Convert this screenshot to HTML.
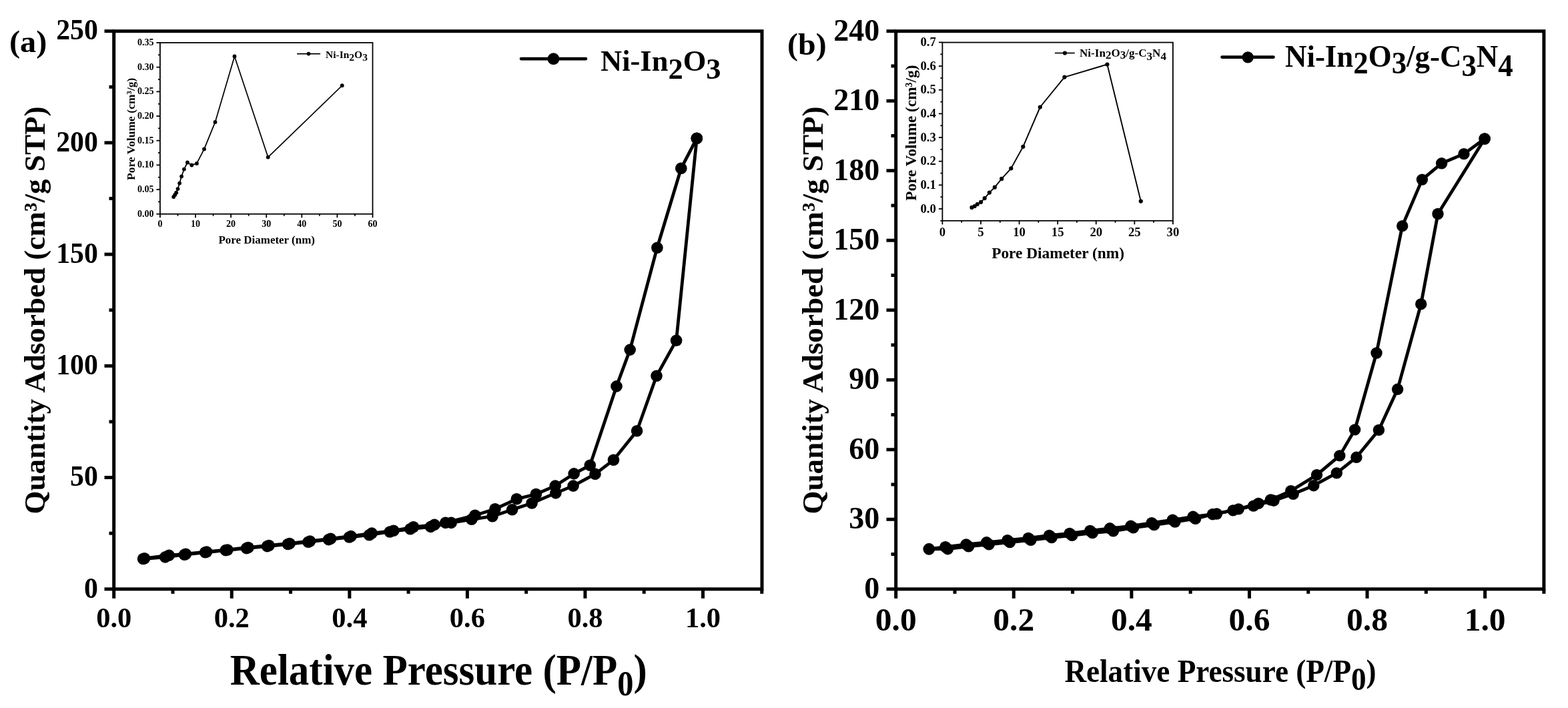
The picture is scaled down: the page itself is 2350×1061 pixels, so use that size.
<!DOCTYPE html>
<html><head><meta charset="utf-8"><title>BET isotherms</title>
<style>html,body{margin:0;padding:0;background:#fff;} svg{display:block;}</style>
</head><body>
<svg width="2350" height="1061" viewBox="0 0 2350 1061" font-family="'Liberation Serif','Times New Roman',serif" font-weight="bold">
<rect width="2350" height="1061" fill="#fff"/>
<line x1="170.70" y1="882.80" x2="156.50" y2="882.80" stroke="#000" stroke-width="5.0"/>
<text transform="translate(146.80,895.60) scale(0.9650,1)" font-size="43.3" text-anchor="end" >0</text>
<line x1="170.70" y1="715.57" x2="156.50" y2="715.57" stroke="#000" stroke-width="5.0"/>
<text transform="translate(146.80,728.37) scale(0.9650,1)" font-size="43.3" text-anchor="end" >50</text>
<line x1="170.70" y1="548.35" x2="156.50" y2="548.35" stroke="#000" stroke-width="5.0"/>
<text transform="translate(146.80,561.15) scale(0.9650,1)" font-size="43.3" text-anchor="end" >100</text>
<line x1="170.70" y1="381.12" x2="156.50" y2="381.12" stroke="#000" stroke-width="5.0"/>
<text transform="translate(146.80,393.92) scale(0.9650,1)" font-size="43.3" text-anchor="end" >150</text>
<line x1="170.70" y1="213.90" x2="156.50" y2="213.90" stroke="#000" stroke-width="5.0"/>
<text transform="translate(146.80,226.70) scale(0.9650,1)" font-size="43.3" text-anchor="end" >200</text>
<line x1="170.70" y1="46.67" x2="156.50" y2="46.67" stroke="#000" stroke-width="5.0"/>
<text transform="translate(146.80,59.47) scale(0.9650,1)" font-size="43.3" text-anchor="end" >250</text>
<line x1="170.70" y1="799.19" x2="163.50" y2="799.19" stroke="#000" stroke-width="5.0"/>
<line x1="170.70" y1="631.96" x2="163.50" y2="631.96" stroke="#000" stroke-width="5.0"/>
<line x1="170.70" y1="464.74" x2="163.50" y2="464.74" stroke="#000" stroke-width="5.0"/>
<line x1="170.70" y1="297.51" x2="163.50" y2="297.51" stroke="#000" stroke-width="5.0"/>
<line x1="170.70" y1="130.29" x2="163.50" y2="130.29" stroke="#000" stroke-width="5.0"/>
<line x1="170.70" y1="882.80" x2="170.70" y2="896.80" stroke="#000" stroke-width="5.0"/>
<text transform="translate(170.70,940.30)" font-size="42.5" text-anchor="middle" >0.0</text>
<line x1="347.26" y1="882.80" x2="347.26" y2="896.80" stroke="#000" stroke-width="5.0"/>
<text transform="translate(347.26,940.30)" font-size="42.5" text-anchor="middle" >0.2</text>
<line x1="523.82" y1="882.80" x2="523.82" y2="896.80" stroke="#000" stroke-width="5.0"/>
<text transform="translate(523.82,940.30)" font-size="42.5" text-anchor="middle" >0.4</text>
<line x1="700.38" y1="882.80" x2="700.38" y2="896.80" stroke="#000" stroke-width="5.0"/>
<text transform="translate(700.38,940.30)" font-size="42.5" text-anchor="middle" >0.6</text>
<line x1="876.94" y1="882.80" x2="876.94" y2="896.80" stroke="#000" stroke-width="5.0"/>
<text transform="translate(876.94,940.30)" font-size="42.5" text-anchor="middle" >0.8</text>
<line x1="1053.50" y1="882.80" x2="1053.50" y2="896.80" stroke="#000" stroke-width="5.0"/>
<text transform="translate(1053.50,940.30)" font-size="42.5" text-anchor="middle" >1.0</text>
<line x1="258.98" y1="882.80" x2="258.98" y2="889.80" stroke="#000" stroke-width="5.0"/>
<line x1="435.54" y1="882.80" x2="435.54" y2="889.80" stroke="#000" stroke-width="5.0"/>
<line x1="612.10" y1="882.80" x2="612.10" y2="889.80" stroke="#000" stroke-width="5.0"/>
<line x1="788.66" y1="882.80" x2="788.66" y2="889.80" stroke="#000" stroke-width="5.0"/>
<line x1="965.22" y1="882.80" x2="965.22" y2="889.80" stroke="#000" stroke-width="5.0"/>
<line x1="1141.78" y1="882.80" x2="1141.78" y2="889.80" stroke="#000" stroke-width="5.0"/>
<rect x="170.70" y="46.70" width="971.30" height="836.10" fill="none" stroke="#000" stroke-width="5.0" stroke-linejoin="miter" stroke-linecap="square"/>
<line x1="1342.70" y1="882.80" x2="1328.50" y2="882.80" stroke="#000" stroke-width="5.0"/>
<text transform="translate(1318.30,896.70)" font-size="46" text-anchor="end" >0</text>
<line x1="1342.70" y1="778.29" x2="1328.50" y2="778.29" stroke="#000" stroke-width="5.0"/>
<text transform="translate(1318.30,792.19)" font-size="46" text-anchor="end" >30</text>
<line x1="1342.70" y1="673.77" x2="1328.50" y2="673.77" stroke="#000" stroke-width="5.0"/>
<text transform="translate(1318.30,687.67)" font-size="46" text-anchor="end" >60</text>
<line x1="1342.70" y1="569.26" x2="1328.50" y2="569.26" stroke="#000" stroke-width="5.0"/>
<text transform="translate(1318.30,583.16)" font-size="46" text-anchor="end" >90</text>
<line x1="1342.70" y1="464.74" x2="1328.50" y2="464.74" stroke="#000" stroke-width="5.0"/>
<text transform="translate(1318.30,478.64)" font-size="46" text-anchor="end" >120</text>
<line x1="1342.70" y1="360.23" x2="1328.50" y2="360.23" stroke="#000" stroke-width="5.0"/>
<text transform="translate(1318.30,374.13)" font-size="46" text-anchor="end" >150</text>
<line x1="1342.70" y1="255.72" x2="1328.50" y2="255.72" stroke="#000" stroke-width="5.0"/>
<text transform="translate(1318.30,269.62)" font-size="46" text-anchor="end" >180</text>
<line x1="1342.70" y1="151.20" x2="1328.50" y2="151.20" stroke="#000" stroke-width="5.0"/>
<text transform="translate(1318.30,165.10)" font-size="46" text-anchor="end" >210</text>
<line x1="1342.70" y1="46.69" x2="1328.50" y2="46.69" stroke="#000" stroke-width="5.0"/>
<text transform="translate(1318.30,60.59)" font-size="46" text-anchor="end" >240</text>
<line x1="1342.70" y1="830.54" x2="1335.50" y2="830.54" stroke="#000" stroke-width="5.0"/>
<line x1="1342.70" y1="726.03" x2="1335.50" y2="726.03" stroke="#000" stroke-width="5.0"/>
<line x1="1342.70" y1="621.51" x2="1335.50" y2="621.51" stroke="#000" stroke-width="5.0"/>
<line x1="1342.70" y1="517.00" x2="1335.50" y2="517.00" stroke="#000" stroke-width="5.0"/>
<line x1="1342.70" y1="412.49" x2="1335.50" y2="412.49" stroke="#000" stroke-width="5.0"/>
<line x1="1342.70" y1="307.97" x2="1335.50" y2="307.97" stroke="#000" stroke-width="5.0"/>
<line x1="1342.70" y1="203.46" x2="1335.50" y2="203.46" stroke="#000" stroke-width="5.0"/>
<line x1="1342.70" y1="98.94" x2="1335.50" y2="98.94" stroke="#000" stroke-width="5.0"/>
<line x1="1342.70" y1="882.80" x2="1342.70" y2="896.80" stroke="#000" stroke-width="5.0"/>
<text transform="translate(1342.70,944.80)" font-size="49.5" text-anchor="middle" >0.0</text>
<line x1="1519.28" y1="882.80" x2="1519.28" y2="896.80" stroke="#000" stroke-width="5.0"/>
<text transform="translate(1519.28,944.80)" font-size="49.5" text-anchor="middle" >0.2</text>
<line x1="1695.86" y1="882.80" x2="1695.86" y2="896.80" stroke="#000" stroke-width="5.0"/>
<text transform="translate(1695.86,944.80)" font-size="49.5" text-anchor="middle" >0.4</text>
<line x1="1872.44" y1="882.80" x2="1872.44" y2="896.80" stroke="#000" stroke-width="5.0"/>
<text transform="translate(1872.44,944.80)" font-size="49.5" text-anchor="middle" >0.6</text>
<line x1="2049.02" y1="882.80" x2="2049.02" y2="896.80" stroke="#000" stroke-width="5.0"/>
<text transform="translate(2049.02,944.80)" font-size="49.5" text-anchor="middle" >0.8</text>
<line x1="2225.60" y1="882.80" x2="2225.60" y2="896.80" stroke="#000" stroke-width="5.0"/>
<text transform="translate(2225.60,944.80)" font-size="49.5" text-anchor="middle" >1.0</text>
<line x1="1430.99" y1="882.80" x2="1430.99" y2="889.80" stroke="#000" stroke-width="5.0"/>
<line x1="1607.57" y1="882.80" x2="1607.57" y2="889.80" stroke="#000" stroke-width="5.0"/>
<line x1="1784.15" y1="882.80" x2="1784.15" y2="889.80" stroke="#000" stroke-width="5.0"/>
<line x1="1960.73" y1="882.80" x2="1960.73" y2="889.80" stroke="#000" stroke-width="5.0"/>
<line x1="2137.31" y1="882.80" x2="2137.31" y2="889.80" stroke="#000" stroke-width="5.0"/>
<line x1="2313.89" y1="882.80" x2="2313.89" y2="889.80" stroke="#000" stroke-width="5.0"/>
<rect x="1342.70" y="46.70" width="971.20" height="836.10" fill="none" stroke="#000" stroke-width="5.0" stroke-linejoin="miter" stroke-linecap="square"/>
<text transform="translate(13.92,77.80) scale(1.0300,1)" font-size="47" text-anchor="start" >(a)</text>
<text transform="translate(1180.12,82.10) scale(1.0200,1)" font-size="47" text-anchor="start" >(b)</text>
<text transform="translate(657.3,1025.8) scale(0.9243,1)" font-size="66" text-anchor="middle">Relative Pressure (P/P<tspan font-size="52.5" dy="16">0</tspan><tspan dy="-16">)</tspan></text>
<text transform="translate(1829,1021.7) scale(0.931,1)" font-size="48.5" text-anchor="middle">Relative Pressure (P/P<tspan font-size="48.5" dy="12.2">0</tspan><tspan dy="-12.2">)</tspan></text>
<text transform="translate(66.6,465) rotate(-90)" font-size="45.1" text-anchor="middle">Quantity Adsorbed (cm³/g STP)</text>
<text transform="translate(1232.5,465) rotate(-90)" font-size="45.1" text-anchor="middle">Quantity Adsorbed (cm³/g STP)</text>
<line x1="781" y1="88.1" x2="878" y2="88.1" stroke="#000" stroke-width="4.6" stroke-linecap="round"/>
<circle cx="829.5" cy="88.2" r="8.9"/>
<text x="900" y="105.6" font-size="44.5">Ni-In<tspan dy="12.7">2</tspan><tspan dy="-12.7">O</tspan><tspan dy="12.7">3</tspan></text>
<line x1="1831.5" y1="85.6" x2="1908.5" y2="85.6" stroke="#000" stroke-width="4.6" stroke-linecap="round"/>
<circle cx="1870.2" cy="85.9" r="8.7"/>
<text transform="translate(1926,99.9) scale(0.987,1)" font-size="45.5">Ni-In<tspan dy="10">2</tspan><tspan dy="-10">O</tspan><tspan dy="10">3</tspan><tspan dy="-10">/g-C</tspan><tspan dy="14">3</tspan><tspan dy="-14">N</tspan><tspan dy="14">4</tspan></text>
<path d="M214.6,837.5 L247.6,834.9 L276.5,831.2 L307.6,827.8 L338.2,824.6 L369.5,821.6 L400.5,818.6 L431.5,815.5 L462.0,812.2 L492.5,808.6 L523.4,805.0 L553.4,801.7 L584.3,797.0 L614.9,792.8 L645.5,789.4 L676.2,783.4 L706.8,778.3 L738.0,773.7 L767.6,763.8 L797.1,754.0 L832.9,738.9 L859.1,728.1 L892.0,710.4 L919.5,689.3 L954.6,645.8 L984.0,563.3 L1013.6,510.2 L1044.3,207.2" fill="none" stroke="#000" stroke-width="4.8" stroke-linejoin="round" stroke-linecap="round"/>
<circle cx="214.6" cy="837.5" r="8.8"/>
<circle cx="247.6" cy="834.9" r="8.8"/>
<circle cx="276.5" cy="831.2" r="8.8"/>
<circle cx="307.6" cy="827.8" r="8.8"/>
<circle cx="338.2" cy="824.6" r="8.8"/>
<circle cx="369.5" cy="821.6" r="8.8"/>
<circle cx="400.5" cy="818.6" r="8.8"/>
<circle cx="431.5" cy="815.5" r="8.8"/>
<circle cx="462.0" cy="812.2" r="8.8"/>
<circle cx="492.5" cy="808.6" r="8.8"/>
<circle cx="523.4" cy="805.0" r="8.8"/>
<circle cx="553.4" cy="801.7" r="8.8"/>
<circle cx="584.3" cy="797.0" r="8.8"/>
<circle cx="614.9" cy="792.8" r="8.8"/>
<circle cx="645.5" cy="789.4" r="8.8"/>
<circle cx="676.2" cy="783.4" r="8.8"/>
<circle cx="706.8" cy="778.3" r="8.8"/>
<circle cx="738.0" cy="773.7" r="8.8"/>
<circle cx="767.6" cy="763.8" r="8.8"/>
<circle cx="797.1" cy="754.0" r="8.8"/>
<circle cx="832.9" cy="738.9" r="8.8"/>
<circle cx="859.1" cy="728.1" r="8.8"/>
<circle cx="892.0" cy="710.4" r="8.8"/>
<circle cx="919.5" cy="689.3" r="8.8"/>
<circle cx="954.6" cy="645.8" r="8.8"/>
<circle cx="984.0" cy="563.3" r="8.8"/>
<circle cx="1013.6" cy="510.2" r="8.8"/>
<circle cx="1044.3" cy="207.2" r="8.8"/>
<path d="M1044.3,207.2 L1020.8,252.3 L984.9,371.2 L944.2,524.1 L924.0,578.9 L884.3,697.3 L860.2,709.9 L832.2,728.1 L803.4,740.5 L774.3,747.8 L742.0,762.8 L711.9,772.3 L667.7,783.4 L651.1,786.4 L619.6,789.8 L589.8,795.3 L557.2,799.1 L526.0,803.6 L495.5,807.3 L464.5,811.0 L434.0,814.5 L403.0,817.5 L372.0,820.5 L340.9,824.0 L309.6,827.0 L278.3,830.2 L253.1,832.2 L216.5,836.8" fill="none" stroke="#000" stroke-width="4.8" stroke-linejoin="round" stroke-linecap="round"/>
<circle cx="1044.3" cy="207.2" r="8.8"/>
<circle cx="1020.8" cy="252.3" r="8.8"/>
<circle cx="984.9" cy="371.2" r="8.8"/>
<circle cx="944.2" cy="524.1" r="8.8"/>
<circle cx="924.0" cy="578.9" r="8.8"/>
<circle cx="884.3" cy="697.3" r="8.8"/>
<circle cx="860.2" cy="709.9" r="8.8"/>
<circle cx="832.2" cy="728.1" r="8.8"/>
<circle cx="803.4" cy="740.5" r="8.8"/>
<circle cx="774.3" cy="747.8" r="8.8"/>
<circle cx="742.0" cy="762.8" r="8.8"/>
<circle cx="711.9" cy="772.3" r="8.8"/>
<circle cx="667.7" cy="783.4" r="8.8"/>
<circle cx="651.1" cy="786.4" r="8.8"/>
<circle cx="619.6" cy="789.8" r="8.8"/>
<circle cx="589.8" cy="795.3" r="8.8"/>
<circle cx="557.2" cy="799.1" r="8.8"/>
<circle cx="526.0" cy="803.6" r="8.8"/>
<circle cx="495.5" cy="807.3" r="8.8"/>
<circle cx="464.5" cy="811.0" r="8.8"/>
<circle cx="434.0" cy="814.5" r="8.8"/>
<circle cx="403.0" cy="817.5" r="8.8"/>
<circle cx="372.0" cy="820.5" r="8.8"/>
<circle cx="340.9" cy="824.0" r="8.8"/>
<circle cx="309.6" cy="827.0" r="8.8"/>
<circle cx="278.3" cy="830.2" r="8.8"/>
<circle cx="253.1" cy="832.2" r="8.8"/>
<circle cx="216.5" cy="836.8" r="8.8"/>
<path d="M1392.3,822.8 L1420.4,822.7 L1451.6,818.9 L1482.2,815.8 L1513.5,812.6 L1544.8,809.4 L1576.1,805.5 L1606.7,802.4 L1637.3,798.5 L1668.5,795.8 L1698.5,790.9 L1729.7,786.6 L1761.0,782.1 L1791.6,777.3 L1817.4,770.7 L1848.0,764.9 L1878.6,758.1 L1909.0,750.2 L1938.2,740.3 L1968.8,727.7 L2003.3,708.9 L2032.9,685.3 L2066.4,644.4 L2094.6,583.3 L2129.7,455.7 L2155.0,320.5 L2225.1,208.0" fill="none" stroke="#000" stroke-width="4.8" stroke-linejoin="round" stroke-linecap="round"/>
<circle cx="1392.3" cy="822.8" r="8.7"/>
<circle cx="1420.4" cy="822.7" r="8.7"/>
<circle cx="1451.6" cy="818.9" r="8.7"/>
<circle cx="1482.2" cy="815.8" r="8.7"/>
<circle cx="1513.5" cy="812.6" r="8.7"/>
<circle cx="1544.8" cy="809.4" r="8.7"/>
<circle cx="1576.1" cy="805.5" r="8.7"/>
<circle cx="1606.7" cy="802.4" r="8.7"/>
<circle cx="1637.3" cy="798.5" r="8.7"/>
<circle cx="1668.5" cy="795.8" r="8.7"/>
<circle cx="1698.5" cy="790.9" r="8.7"/>
<circle cx="1729.7" cy="786.6" r="8.7"/>
<circle cx="1761.0" cy="782.1" r="8.7"/>
<circle cx="1791.6" cy="777.3" r="8.7"/>
<circle cx="1817.4" cy="770.7" r="8.7"/>
<circle cx="1848.0" cy="764.9" r="8.7"/>
<circle cx="1878.6" cy="758.1" r="8.7"/>
<circle cx="1909.0" cy="750.2" r="8.7"/>
<circle cx="1938.2" cy="740.3" r="8.7"/>
<circle cx="1968.8" cy="727.7" r="8.7"/>
<circle cx="2003.3" cy="708.9" r="8.7"/>
<circle cx="2032.9" cy="685.3" r="8.7"/>
<circle cx="2066.4" cy="644.4" r="8.7"/>
<circle cx="2094.6" cy="583.3" r="8.7"/>
<circle cx="2129.7" cy="455.7" r="8.7"/>
<circle cx="2155.0" cy="320.5" r="8.7"/>
<circle cx="2225.1" cy="208.0" r="8.7"/>
<path d="M2225.1,208.0 L2194.0,230.6 L2160.6,244.8 L2131.4,269.1 L2101.7,338.6 L2063.0,529.0 L2030.6,643.9 L2007.8,682.9 L1973.5,711.7 L1934.7,735.6 L1904.4,749.0 L1886.1,754.4 L1856.2,762.9 L1823.5,770.0 L1788.0,774.3 L1757.4,779.1 L1726.1,783.6 L1694.7,788.3 L1663.4,791.8 L1633.7,795.5 L1603.1,799.4 L1572.5,802.5 L1541.2,806.4 L1509.9,809.6 L1478.6,812.8 L1448.0,815.9 L1416.8,819.7 L1392.3,822.8" fill="none" stroke="#000" stroke-width="4.8" stroke-linejoin="round" stroke-linecap="round"/>
<circle cx="2225.1" cy="208.0" r="8.7"/>
<circle cx="2194.0" cy="230.6" r="8.7"/>
<circle cx="2160.6" cy="244.8" r="8.7"/>
<circle cx="2131.4" cy="269.1" r="8.7"/>
<circle cx="2101.7" cy="338.6" r="8.7"/>
<circle cx="2063.0" cy="529.0" r="8.7"/>
<circle cx="2030.6" cy="643.9" r="8.7"/>
<circle cx="2007.8" cy="682.9" r="8.7"/>
<circle cx="1973.5" cy="711.7" r="8.7"/>
<circle cx="1934.7" cy="735.6" r="8.7"/>
<circle cx="1904.4" cy="749.0" r="8.7"/>
<circle cx="1886.1" cy="754.4" r="8.7"/>
<circle cx="1856.2" cy="762.9" r="8.7"/>
<circle cx="1823.5" cy="770.0" r="8.7"/>
<circle cx="1788.0" cy="774.3" r="8.7"/>
<circle cx="1757.4" cy="779.1" r="8.7"/>
<circle cx="1726.1" cy="783.6" r="8.7"/>
<circle cx="1694.7" cy="788.3" r="8.7"/>
<circle cx="1663.4" cy="791.8" r="8.7"/>
<circle cx="1633.7" cy="795.5" r="8.7"/>
<circle cx="1603.1" cy="799.4" r="8.7"/>
<circle cx="1572.5" cy="802.5" r="8.7"/>
<circle cx="1541.2" cy="806.4" r="8.7"/>
<circle cx="1509.9" cy="809.6" r="8.7"/>
<circle cx="1478.6" cy="812.8" r="8.7"/>
<circle cx="1448.0" cy="815.9" r="8.7"/>
<circle cx="1416.8" cy="819.7" r="8.7"/>
<circle cx="1392.3" cy="822.8" r="8.7"/>
<line x1="239.90" y1="320.70" x2="234.40" y2="320.70" stroke="#000" stroke-width="1.8"/>
<text transform="translate(230.50,324.60)" font-size="14" text-anchor="end" >0.00</text>
<line x1="239.90" y1="284.03" x2="234.40" y2="284.03" stroke="#000" stroke-width="1.8"/>
<text transform="translate(230.50,287.93)" font-size="14" text-anchor="end" >0.05</text>
<line x1="239.90" y1="247.36" x2="234.40" y2="247.36" stroke="#000" stroke-width="1.8"/>
<text transform="translate(230.50,251.26)" font-size="14" text-anchor="end" >0.10</text>
<line x1="239.90" y1="210.69" x2="234.40" y2="210.69" stroke="#000" stroke-width="1.8"/>
<text transform="translate(230.50,214.59)" font-size="14" text-anchor="end" >0.15</text>
<line x1="239.90" y1="174.02" x2="234.40" y2="174.02" stroke="#000" stroke-width="1.8"/>
<text transform="translate(230.50,177.92)" font-size="14" text-anchor="end" >0.20</text>
<line x1="239.90" y1="137.35" x2="234.40" y2="137.35" stroke="#000" stroke-width="1.8"/>
<text transform="translate(230.50,141.25)" font-size="14" text-anchor="end" >0.25</text>
<line x1="239.90" y1="100.68" x2="234.40" y2="100.68" stroke="#000" stroke-width="1.8"/>
<text transform="translate(230.50,104.58)" font-size="14" text-anchor="end" >0.30</text>
<line x1="239.90" y1="64.01" x2="234.40" y2="64.01" stroke="#000" stroke-width="1.8"/>
<text transform="translate(230.50,67.91)" font-size="14" text-anchor="end" >0.35</text>
<line x1="239.90" y1="302.37" x2="236.90" y2="302.37" stroke="#000" stroke-width="1.8"/>
<line x1="239.90" y1="265.69" x2="236.90" y2="265.69" stroke="#000" stroke-width="1.8"/>
<line x1="239.90" y1="229.02" x2="236.90" y2="229.02" stroke="#000" stroke-width="1.8"/>
<line x1="239.90" y1="192.35" x2="236.90" y2="192.35" stroke="#000" stroke-width="1.8"/>
<line x1="239.90" y1="155.69" x2="236.90" y2="155.69" stroke="#000" stroke-width="1.8"/>
<line x1="239.90" y1="119.01" x2="236.90" y2="119.01" stroke="#000" stroke-width="1.8"/>
<line x1="239.90" y1="82.34" x2="236.90" y2="82.34" stroke="#000" stroke-width="1.8"/>
<line x1="239.90" y1="320.70" x2="239.90" y2="326.20" stroke="#000" stroke-width="1.8"/>
<text transform="translate(239.90,339.60)" font-size="14" text-anchor="middle" >0</text>
<line x1="293.00" y1="320.70" x2="293.00" y2="326.20" stroke="#000" stroke-width="1.8"/>
<text transform="translate(293.00,339.60)" font-size="14" text-anchor="middle" >10</text>
<line x1="346.10" y1="320.70" x2="346.10" y2="326.20" stroke="#000" stroke-width="1.8"/>
<text transform="translate(346.10,339.60)" font-size="14" text-anchor="middle" >20</text>
<line x1="399.20" y1="320.70" x2="399.20" y2="326.20" stroke="#000" stroke-width="1.8"/>
<text transform="translate(399.20,339.60)" font-size="14" text-anchor="middle" >30</text>
<line x1="452.30" y1="320.70" x2="452.30" y2="326.20" stroke="#000" stroke-width="1.8"/>
<text transform="translate(452.30,339.60)" font-size="14" text-anchor="middle" >40</text>
<line x1="505.40" y1="320.70" x2="505.40" y2="326.20" stroke="#000" stroke-width="1.8"/>
<text transform="translate(505.40,339.60)" font-size="14" text-anchor="middle" >50</text>
<line x1="558.50" y1="320.70" x2="558.50" y2="326.20" stroke="#000" stroke-width="1.8"/>
<text transform="translate(558.50,339.60)" font-size="14" text-anchor="middle" >60</text>
<line x1="266.45" y1="320.70" x2="266.45" y2="323.70" stroke="#000" stroke-width="1.8"/>
<line x1="319.55" y1="320.70" x2="319.55" y2="323.70" stroke="#000" stroke-width="1.8"/>
<line x1="372.65" y1="320.70" x2="372.65" y2="323.70" stroke="#000" stroke-width="1.8"/>
<line x1="425.75" y1="320.70" x2="425.75" y2="323.70" stroke="#000" stroke-width="1.8"/>
<line x1="478.85" y1="320.70" x2="478.85" y2="323.70" stroke="#000" stroke-width="1.8"/>
<line x1="531.95" y1="320.70" x2="531.95" y2="323.70" stroke="#000" stroke-width="1.8"/>
<rect x="239.90" y="64.00" width="318.60" height="256.70" fill="none" stroke="#000" stroke-width="1.8"/>
<text transform="translate(399.7,365) scale(1.03,1)" font-size="16.5" text-anchor="middle">Pore Diameter (nm)</text>
<text transform="translate(201.5,193.3) rotate(-90)" font-size="17.6" text-anchor="middle">Pore Volume (cm³/g)</text>
<path d="M260.2,295.0 L262.2,292.0 L264.2,288.7 L266.5,283.1 L269.1,274.6 L272.1,264.3 L275.9,253.6 L280.9,243.5 L287.3,247.5 L294.9,244.9 L306.0,223.4 L322.5,182.9 L351.5,84.4 L401.7,235.6 L512.7,128.2" fill="none" stroke="#000" stroke-width="1.7" stroke-linejoin="round" stroke-linecap="round"/>
<circle cx="260.2" cy="295.0" r="2.9"/>
<circle cx="262.2" cy="292.0" r="2.9"/>
<circle cx="264.2" cy="288.7" r="2.9"/>
<circle cx="266.5" cy="283.1" r="2.9"/>
<circle cx="269.1" cy="274.6" r="2.9"/>
<circle cx="272.1" cy="264.3" r="2.9"/>
<circle cx="275.9" cy="253.6" r="2.9"/>
<circle cx="280.9" cy="243.5" r="2.9"/>
<circle cx="287.3" cy="247.5" r="2.9"/>
<circle cx="294.9" cy="244.9" r="2.9"/>
<circle cx="306.0" cy="223.4" r="2.9"/>
<circle cx="322.5" cy="182.9" r="2.9"/>
<circle cx="351.5" cy="84.4" r="2.9"/>
<circle cx="401.7" cy="235.6" r="2.9"/>
<circle cx="512.7" cy="128.2" r="2.9"/>
<line x1="445.1" y1="80.6" x2="480.1" y2="80.6" stroke="#000" stroke-width="1.7"/>
<circle cx="462.5" cy="80.6" r="2.8"/>
<text transform="translate(488,86.9) scale(1.0,1)" font-size="15.5">Ni-In<tspan dy="4.5">2</tspan><tspan dy="-4.5">O</tspan><tspan dy="4.5">3</tspan></text>
<line x1="1412.40" y1="313.00" x2="1406.90" y2="313.00" stroke="#000" stroke-width="1.8"/>
<text transform="translate(1402.80,318.60)" font-size="18.7" text-anchor="end" >0.0</text>
<line x1="1412.40" y1="277.35" x2="1406.90" y2="277.35" stroke="#000" stroke-width="1.8"/>
<text transform="translate(1402.80,282.95)" font-size="18.7" text-anchor="end" >0.1</text>
<line x1="1412.40" y1="241.70" x2="1406.90" y2="241.70" stroke="#000" stroke-width="1.8"/>
<text transform="translate(1402.80,247.30)" font-size="18.7" text-anchor="end" >0.2</text>
<line x1="1412.40" y1="206.05" x2="1406.90" y2="206.05" stroke="#000" stroke-width="1.8"/>
<text transform="translate(1402.80,211.65)" font-size="18.7" text-anchor="end" >0.3</text>
<line x1="1412.40" y1="170.40" x2="1406.90" y2="170.40" stroke="#000" stroke-width="1.8"/>
<text transform="translate(1402.80,176.00)" font-size="18.7" text-anchor="end" >0.4</text>
<line x1="1412.40" y1="134.75" x2="1406.90" y2="134.75" stroke="#000" stroke-width="1.8"/>
<text transform="translate(1402.80,140.35)" font-size="18.7" text-anchor="end" >0.5</text>
<line x1="1412.40" y1="99.10" x2="1406.90" y2="99.10" stroke="#000" stroke-width="1.8"/>
<text transform="translate(1402.80,104.70)" font-size="18.7" text-anchor="end" >0.6</text>
<line x1="1412.40" y1="63.45" x2="1406.90" y2="63.45" stroke="#000" stroke-width="1.8"/>
<text transform="translate(1402.80,69.05)" font-size="18.7" text-anchor="end" >0.7</text>
<line x1="1412.40" y1="330.82" x2="1409.40" y2="330.82" stroke="#000" stroke-width="1.8"/>
<line x1="1412.40" y1="295.18" x2="1409.40" y2="295.18" stroke="#000" stroke-width="1.8"/>
<line x1="1412.40" y1="259.52" x2="1409.40" y2="259.52" stroke="#000" stroke-width="1.8"/>
<line x1="1412.40" y1="223.88" x2="1409.40" y2="223.88" stroke="#000" stroke-width="1.8"/>
<line x1="1412.40" y1="188.23" x2="1409.40" y2="188.23" stroke="#000" stroke-width="1.8"/>
<line x1="1412.40" y1="152.57" x2="1409.40" y2="152.57" stroke="#000" stroke-width="1.8"/>
<line x1="1412.40" y1="116.92" x2="1409.40" y2="116.92" stroke="#000" stroke-width="1.8"/>
<line x1="1412.40" y1="81.28" x2="1409.40" y2="81.28" stroke="#000" stroke-width="1.8"/>
<line x1="1412.40" y1="330.80" x2="1412.40" y2="336.30" stroke="#000" stroke-width="1.8"/>
<text transform="translate(1412.40,353.50)" font-size="18.7" text-anchor="middle" >0</text>
<line x1="1469.99" y1="330.80" x2="1469.99" y2="336.30" stroke="#000" stroke-width="1.8"/>
<text transform="translate(1469.99,353.50)" font-size="18.7" text-anchor="middle" >5</text>
<line x1="1527.57" y1="330.80" x2="1527.57" y2="336.30" stroke="#000" stroke-width="1.8"/>
<text transform="translate(1527.57,353.50)" font-size="18.7" text-anchor="middle" >10</text>
<line x1="1585.16" y1="330.80" x2="1585.16" y2="336.30" stroke="#000" stroke-width="1.8"/>
<text transform="translate(1585.16,353.50)" font-size="18.7" text-anchor="middle" >15</text>
<line x1="1642.74" y1="330.80" x2="1642.74" y2="336.30" stroke="#000" stroke-width="1.8"/>
<text transform="translate(1642.74,353.50)" font-size="18.7" text-anchor="middle" >20</text>
<line x1="1700.33" y1="330.80" x2="1700.33" y2="336.30" stroke="#000" stroke-width="1.8"/>
<text transform="translate(1700.33,353.50)" font-size="18.7" text-anchor="middle" >25</text>
<line x1="1757.91" y1="330.80" x2="1757.91" y2="336.30" stroke="#000" stroke-width="1.8"/>
<text transform="translate(1757.91,353.50)" font-size="18.7" text-anchor="middle" >30</text>
<line x1="1441.19" y1="330.80" x2="1441.19" y2="333.80" stroke="#000" stroke-width="1.8"/>
<line x1="1498.78" y1="330.80" x2="1498.78" y2="333.80" stroke="#000" stroke-width="1.8"/>
<line x1="1556.36" y1="330.80" x2="1556.36" y2="333.80" stroke="#000" stroke-width="1.8"/>
<line x1="1613.95" y1="330.80" x2="1613.95" y2="333.80" stroke="#000" stroke-width="1.8"/>
<line x1="1671.53" y1="330.80" x2="1671.53" y2="333.80" stroke="#000" stroke-width="1.8"/>
<line x1="1729.12" y1="330.80" x2="1729.12" y2="333.80" stroke="#000" stroke-width="1.8"/>
<rect x="1412.40" y="63.60" width="345.50" height="267.20" fill="none" stroke="#000" stroke-width="1.8"/>
<text transform="translate(1585.6,386.8) scale(1.025,1)" font-size="22.8" text-anchor="middle">Pore Diameter (nm)</text>
<text transform="translate(1373,199.2) rotate(-90)" font-size="23.3" text-anchor="middle">Pore Volume (cm³/g)</text>
<path d="M1456.5,310.9 L1460.7,309.0 L1464.8,306.0 L1470.1,302.8 L1475.7,297.1 L1482.9,288.6 L1490.8,280.7 L1501.2,267.9 L1515.3,252.4 L1533.3,219.8 L1558.8,160.5 L1595.4,115.6 L1659.4,96.5 L1709.8,301.6" fill="none" stroke="#000" stroke-width="1.9" stroke-linejoin="round" stroke-linecap="round"/>
<circle cx="1456.5" cy="310.9" r="3.1"/>
<circle cx="1460.7" cy="309.0" r="3.1"/>
<circle cx="1464.8" cy="306.0" r="3.1"/>
<circle cx="1470.1" cy="302.8" r="3.1"/>
<circle cx="1475.7" cy="297.1" r="3.1"/>
<circle cx="1482.9" cy="288.6" r="3.1"/>
<circle cx="1490.8" cy="280.7" r="3.1"/>
<circle cx="1501.2" cy="267.9" r="3.1"/>
<circle cx="1515.3" cy="252.4" r="3.1"/>
<circle cx="1533.3" cy="219.8" r="3.1"/>
<circle cx="1558.8" cy="160.5" r="3.1"/>
<circle cx="1595.4" cy="115.6" r="3.1"/>
<circle cx="1659.4" cy="96.5" r="3.1"/>
<circle cx="1709.8" cy="301.6" r="3.1"/>
<line x1="1580.9" y1="79.5" x2="1610.8" y2="79.5" stroke="#000" stroke-width="1.7"/>
<circle cx="1595.9" cy="79.5" r="3.1"/>
<text transform="translate(1618,84.9) scale(1.029,1)" font-size="16.6">Ni-In<tspan dy="3.5">2</tspan><tspan dy="-3.5">O</tspan><tspan dy="3.5">3</tspan><tspan dy="-3.5">/g-C</tspan><tspan dy="4.7">3</tspan><tspan dy="-4.7">N</tspan><tspan dy="4.7">4</tspan></text>
</svg>
</body></html>
